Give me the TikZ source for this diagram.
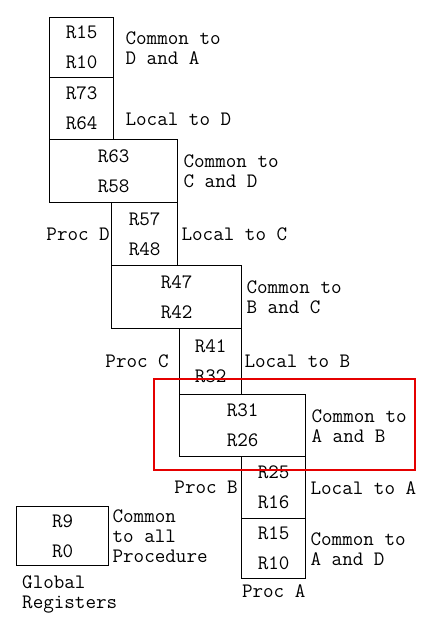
\documentclass[tikz,border=0pt]{standalone}
\usetikzlibrary{positioning}

\begin{document}
\begin{tikzpicture}[x=1pt,y=-1pt,
  reg/.style={draw,line width=1.4pt,anchor=north west,align=center,inner sep=0pt,
    font=\ttfamily\fontsize{20.5}{30}\selectfont},
  note/.style={align=left,inner sep=0pt,font=\ttfamily\fontsize{20.5}{20}\selectfont},
  proc/.style={inner sep=0pt,font=\ttfamily\fontsize{20.5}{20}\selectfont}]
\useasboundingbox (0,0) rectangle (430,621);
% register windows, top to bottom
\node[reg,minimum width=64pt,minimum height=60pt]  (da)   at (49,17)  {R15\\R10};
\node[reg,minimum width=64pt,minimum height=62pt]  (dloc) at (49,77)  {R73\\R64};
\node[reg,minimum width=128pt,minimum height=63pt] (cd)   at (49,139) {R63\\R58};
\node[reg,minimum width=66pt,minimum height=63pt]  (cloc) at (111,202) {R57\\R48};
\node[reg,minimum width=130pt,minimum height=63pt] (bc)   at (111,265) {R47\\R42};
\node[reg,minimum width=62pt,minimum height=66pt]  (bloc) at (179,328) {R41\\R32};
\node[reg,minimum width=126pt,minimum height=62pt] (ab)   at (179,394) {R31\\R26};
\node[reg,minimum width=64pt,minimum height=62pt]  (aloc) at (241,456) {R25\\R16};
\node[reg,minimum width=64pt,minimum height=60pt]  (ad)   at (241,518) {R15\\R10};
\node[reg,minimum width=92pt,minimum height=59pt]  (glob) at (16,506)  {R9\\R0};
% labels
\node[note,right=11pt of da] (da text) {Common to\\D and A};
\node[note,right=11pt of dloc,yshift=-11pt] (dloc text) {Local to D};
\node[note,right=5pt of cd] (cd text) {Common to\\C and D};
\node[note,right=3pt of cloc] (cloc text) {Local to C};
\node[note,right=4pt of bc] (bc text) {Common to\\B and C};
\node[note,right=2pt of bloc] (bloc text) {Local to B};
\node[note,right=5pt of ab] (ab text) {Common to\\A and B};
\node[note,right=4pt of aloc] (aloc text) {Local to A};
\node[note,right=4pt of ad] (ad text) {Common to\\A and D};
\node[note,right=3pt of glob] (glob text) {Common\\to all\\Procedure};
\node[note,below right=9pt and 6pt of glob.south west] (glob name) {Global\\Registers};
\node[proc,left=1pt of cloc] (proc d) {Proc D};
\node[proc,left=10pt of bloc] (proc c) {Proc C};
\node[proc,left=3pt of aloc] (proc b) {Proc B};
\node[proc,below=5pt of ad] (proc a) {Proc A};
% highlight
\draw[red!90!black,line width=1.6pt] (154,379) rectangle (415,470);
\end{tikzpicture}
\end{document}
